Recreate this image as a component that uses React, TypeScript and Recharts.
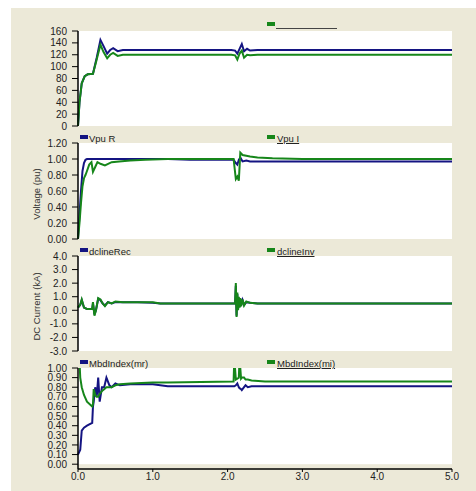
import { LineChart, Line, XAxis, YAxis, CartesianGrid } from "recharts";

const W = 476;
const H = 491;
const BLUE = "#141482";
const GREEN = "#16861a";
const FONT = "'Liberation Sans', Arial, sans-serif";

// time axis
const xTicks = [0, 1, 2, 3, 4, 5];

// panel 1 (untitled, 0..160)
const t1 = [0, 0.02, 0.05, 0.09, 0.13, 0.2, 0.25, 0.3, 0.34, 0.39, 0.43, 0.47, 0.53, 0.6, 1.0, 1.5, 2.05, 2.1, 2.13, 2.16, 2.19, 2.22, 2.26, 2.3, 2.4, 3.0, 4.0, 5.0];
const p1Blue = [0, 40, 72, 84, 87, 88, 115, 145, 135, 122, 128, 131, 126, 128, 128, 128, 128, 127, 122, 130, 138, 126, 130, 127, 128, 128, 128, 128];
const p1Green = [0, 40, 72, 84, 87, 88, 112, 137, 125, 114, 120, 123, 118, 120, 120, 120, 120, 119, 112, 122, 127, 115, 120, 119, 120, 120, 120, 120];
const p1Ticks = [0, 20, 40, 60, 80, 100, 120, 140, 160];

// panel 2: Vpu R / Vpu I
const t2 = [0, 0.02, 0.04, 0.06, 0.08, 0.1, 0.12, 0.15, 0.18, 0.2, 0.23, 0.26, 0.3, 0.36, 0.45, 0.55, 0.7, 0.9, 1.2, 1.5, 2.0, 2.08, 2.11, 2.13, 2.15, 2.17, 2.2, 2.25, 2.3, 2.4, 2.6, 3.0, 4.0, 5.0];
const vpuR = [0, 0.3, 0.6, 0.85, 0.95, 0.99, 1, 1, 1, 1, 1, 1, 1, 1, 1, 1, 1, 1, 1, 0.99, 0.99, 0.99, 0.95, 0.93, 0.99, 1.02, 0.97, 0.98, 0.97, 0.97, 0.97, 0.97, 0.97, 0.97];
const vpuI = [0, 0.2, 0.45, 0.66, 0.76, 0.8, 0.85, 0.93, 0.96, 0.84, 0.9, 0.96, 0.94, 0.92, 0.96, 0.97, 0.98, 0.99, 1, 1, 1, 1, 0.75, 0.78, 0.73, 1.08, 1.05, 1.04, 1.03, 1.02, 1.01, 1, 1, 1];
const p2Ticks = [0, 0.2, 0.4, 0.6, 0.8, 1.0, 1.2];

// panel 3: dclineRec / dclineInv
const t3 = [0, 0.03, 0.05, 0.08, 0.12, 0.19, 0.2, 0.22, 0.24, 0.27, 0.3, 0.33, 0.36, 0.4, 0.45, 0.5, 0.6, 0.8, 1.0, 1.1, 1.5, 2.0, 2.1, 2.11, 2.12, 2.13, 2.14, 2.15, 2.16, 2.17, 2.18, 2.2, 2.22, 2.25, 2.3, 2.4, 3.0, 4.0, 5.0];
const dclineRec = [0.2, 0.4, 0.75, 0.2, 0.1, 0.1, 0.5, -0.3, 0.0, 0.85, 0.75, 0.5, 0.35, 0.6, 0.5, 0.6, 0.6, 0.6, 0.55, 0.5, 0.5, 0.5, 0.5, 1.8, -0.4, 1.2, 0.1, 0.9, 0.25, 0.85, 0.35, 0.75, 0.4, 0.6, 0.55, 0.5, 0.5, 0.5, 0.5];
const dclineInv = [0.2, 0.4, 0.8, 0.2, 0.1, 0.1, 0.6, -0.4, 0.0, 0.9, 0.8, 0.5, 0.3, 0.6, 0.5, 0.65, 0.6, 0.6, 0.6, 0.5, 0.5, 0.5, 0.5, 2.0, -0.5, 1.3, 0.0, 1.0, 0.2, 0.9, 0.3, 0.8, 0.35, 0.65, 0.55, 0.5, 0.5, 0.5, 0.5];
const p3Ticks = [-3, -2, -1, 0, 1, 2, 3, 4];

// panel 4: MbdIndex(mr) / MbdIndex(mi)
const t4 = [0, 0.03, 0.05, 0.08, 0.12, 0.19, 0.2, 0.21, 0.23, 0.25, 0.27, 0.29, 0.32, 0.35, 0.38, 0.42, 0.45, 0.5, 0.56, 0.7, 1.0, 1.2, 2.08, 2.09, 2.11, 2.13, 2.15, 2.16, 2.18, 2.19, 2.22, 2.24, 2.27, 2.32, 2.5, 3.0, 4.0, 5.0];
const mbdMr = [0.1, 0.15, 0.35, 0.38, 0.4, 0.43, 0.6, 0.65, 0.8, 0.7, 0.9, 0.65, 0.8, 0.8, 0.9, 0.82, 0.8, 0.84, 0.82, 0.83, 0.83, 0.81, 0.81, 0.81, 0.82, 0.84, 0.8, 0.79, 0.78, 0.77, 0.8, 0.82, 0.8, 0.81, 0.81, 0.81, 0.81, 0.81];
const mbdMi = [1.4, 0.9, 0.8, 0.72, 0.65, 0.6, 0.62, 0.78, 0.72, 0.7, 0.7, 0.73, 0.76, 0.78, 0.8, 0.8, 0.8, 0.82, 0.83, 0.84, 0.85, 0.85, 0.86, 1.1, 0.88, 0.89, 0.9, 1.1, 0.89, 0.9, 0.9, 0.88, 0.88, 0.87, 0.86, 0.86, 0.86, 0.86];
const p4Ticks = [0, 0.1, 0.2, 0.3, 0.4, 0.5, 0.6, 0.7, 0.8, 0.9, 1.0];

const rows = (t: number[], a: number[], b: number[]) =>
  t.map((x, i) => ({ t: x, a: a[i], b: b[i] }));

function AxisTitle(props: any) {
  const { viewBox, text } = props;
  if (!viewBox) return null;
  const cx = viewBox.x + 36;
  const cy = viewBox.y + viewBox.height / 2 + 3;
  return (
    <text
      x={cx}
      y={cy}
      transform={`rotate(-90 ${cx} ${cy})`}
      textAnchor="middle"
      dominantBaseline="central"
      fontSize={9.5}
      fontFamily={FONT}
      fill="#333"
    >
      {text}
    </text>
  );
}

interface PanelProps {
  data: { t: number; a: number; b: number }[];
  top: number;
  bottom: number;
  domain: [number, number];
  ticks: number[];
  digits: number;
  title?: string;
  showX?: boolean;
  bgHeight?: number;
}

function Panel({ data, top, bottom, domain, ticks, digits, title, showX, bgHeight }: PanelProps) {
  const xH = showX ? 22 : 0;
  return (
    <div style={{ position: "absolute", left: 0, top: 0 }}>
      <LineChart
        width={W}
        height={H}
        data={data}
        margin={{ top, right: 24, bottom: H - bottom - xH, left: 0 }}
      >
        <CartesianGrid horizontal={false} vertical={false} fill="#ffffff" height={bgHeight} />
        <XAxis
          dataKey="t"
          type="number"
          domain={[0, 5]}
          ticks={xTicks}
          hide={!showX}
          height={xH}
          tickFormatter={(v: number) => v.toFixed(1)}
          tick={{ fontSize: 10, fill: "#222", fontFamily: FONT }}
          tickSize={3}
          tickMargin={1}
          axisLine={{ stroke: "#000", strokeWidth: 1.5 }}
          tickLine={{ stroke: "#000" }}
        />
        <YAxis
          type="number"
          domain={domain}
          ticks={ticks}
          allowDataOverflow
          width={78}
          interval={0}
          tickFormatter={(v: number) => v.toFixed(digits)}
          tick={{ fontSize: 10, fill: "#222", fontFamily: FONT }}
          tickSize={6}
          tickMargin={5}
          axisLine={{ stroke: "#000", strokeWidth: 1.5 }}
          tickLine={{ stroke: "#000" }}
          label={title ? <AxisTitle text={title} /> : undefined}
        />
        <Line dataKey="a" type="linear" stroke={BLUE} strokeWidth={2} dot={false} isAnimationActive={false} />
        <Line dataKey="b" type="linear" stroke={GREEN} strokeWidth={2} dot={false} isAnimationActive={false} />
      </LineChart>
    </div>
  );
}

function Legend({ y, blue, green, blank }: { y: number; blue?: string; green?: string; blank?: boolean }) {
  const txt: React.CSSProperties = {
    position: "absolute",
    top: y - 4,
    fontSize: 9.5,
    lineHeight: "11px",
    color: "#222",
    whiteSpace: "nowrap",
  };
  return (
    <>
      {blue && (
        <>
          <div style={{ position: "absolute", left: 80, top: y - 2, width: 8, height: 4, background: BLUE }} />
          <div style={{ ...txt, left: 89 }}>{blue}</div>
        </>
      )}
      <div style={{ position: "absolute", left: 267, top: y - 2, width: 8, height: 4, background: GREEN }} />
      {blank ? (
        <div style={{ position: "absolute", left: 276, top: y + 4, width: 61, height: 1, background: "#444" }} />
      ) : (
        <div style={{ ...txt, left: 277, textDecoration: "underline" }}>{green}</div>
      )}
    </>
  );
}

export default function App() {
  const p4Min = -0.05;
  const p4Top = 368;
  const p4Bottom = 469;
  const p4Bg = ((p4Bottom - p4Top) * 1) / (1 - p4Min);
  return (
    <div
      style={{
        position: "absolute",
        left: 0,
        top: 0,
        width: W,
        height: H,
        background: "#ffffff",
        fontFamily: FONT,
        overflow: "hidden",
      }}
    >
      <div style={{ position: "absolute", left: 11, top: 8, right: 0, bottom: 0, background: "#ece9d8" }} />
      <Panel data={rows(t1, p1Blue, p1Green)} top={31} bottom={126} domain={[0, 160]} ticks={p1Ticks} digits={0} />
      <Panel
        data={rows(t2, vpuR, vpuI)}
        top={143}
        bottom={239}
        domain={[0, 1.2]}
        ticks={p2Ticks}
        digits={2}
        title="Voltage (pu)"
      />
      <Panel
        data={rows(t3, dclineRec, dclineInv)}
        top={256}
        bottom={351}
        domain={[-3, 4]}
        ticks={p3Ticks}
        digits={1}
        title="DC Current (kA)"
      />
      <Panel
        data={rows(t4, mbdMr, mbdMi)}
        top={p4Top}
        bottom={p4Bottom}
        domain={[p4Min, 1]}
        ticks={p4Ticks}
        digits={2}
        showX
        bgHeight={p4Bg}
      />
      <Legend y={24} blank />
      <Legend y={137} blue="Vpu R" green="Vpu I" />
      <Legend y={250} blue="dclineRec" green="dclineInv" />
      <Legend y={362} blue="MbdIndex(mr)" green="MbdIndex(mi)" />
    </div>
  );
}
